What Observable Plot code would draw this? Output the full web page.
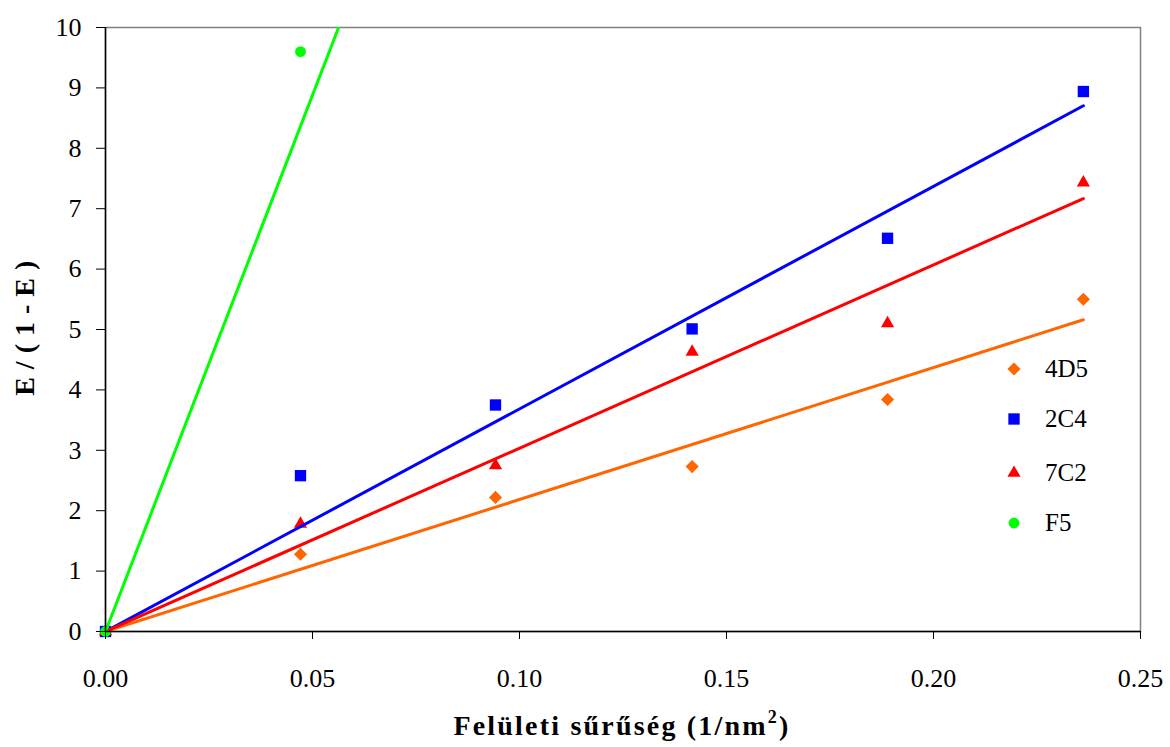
<!DOCTYPE html>
<html><head><meta charset="utf-8">
<script src="https://cdn.jsdelivr.net/npm/d3@7"></script>
<script src="https://cdn.jsdelivr.net/npm/@observablehq/plot@0.6"></script>
<style>
body{margin:0;background:#fff;}
#wrap{position:relative;width:1170px;height:747px;font-family:"Liberation Serif","Times New Roman",serif;color:#000;}
.ytitle{position:absolute;left:25px;top:328px;transform:translate(-50%,-50%) rotate(-90deg);font-weight:bold;font-size:28px;letter-spacing:0.5px;white-space:pre;line-height:1;}
.xtitle{position:absolute;left:622px;top:712px;transform:translateX(-50%);font-weight:bold;font-size:28px;letter-spacing:2.2px;white-space:pre;line-height:1;}
.xtitle sup{font-size:18px;vertical-align:top;position:relative;top:-4px;}
.legend{position:absolute;left:1002px;top:0;}
.lrow{position:absolute;left:0;display:flex;align-items:center;height:30px;font-size:25px;white-space:nowrap;}
.lrow svg{width:24px;height:24px;margin-right:19px;}
</style></head><body><div id="wrap"></div>
<script>
// ---- data ----
const xValues = [0, 0.0471, 0.0942, 0.1417, 0.1889, 0.2362];
const series = ["4D5", "2C4", "7C2", "F5"];
const y4D5 = [0, 1.28, 2.22, 2.73, 3.84, 5.50];
const y2C4 = [0, 2.58, 3.75, 5.01, 6.51, 8.94];
const y7C2 = [0, 1.78, 2.75, 4.63, 5.10, 7.43];
const yF5  = [0, 9.60];
const trendSlopes = [21.85, 36.85, 30.35, 177.6];
const trendEndX = [0.2362, 0.2362, 0.2362, 0.2362];
const xTicks = [0, 0.05, 0.10, 0.15, 0.20, 0.25];
const yTicks = [0, 1, 2, 3, 4, 5, 6, 7, 8, 9, 10];
const colors = ["#FF6600", "#0000FF", "#FF0000", "#00FF00"];
const symbols = ["diamond2", "square", "triangle", "circle"];
const radii = [5.9, 6.4, 4.9, 5.4];

const seriesY = [y4D5, y2C4, y7C2, yF5];
const pts = [];
series.forEach((s, i) => seriesY[i].forEach((v, j) => pts.push({series: s, x: xValues[j], y: v})));
const trend = [];
series.forEach((s, i) => {
  trend.push({series: s, x: 0, y: 0});
  trend.push({series: s, x: trendEndX[i], y: trendSlopes[i] * trendEndX[i]});
});

const dotMarks = series.map((s, i) => Plot.dot(pts.filter(d => d.series === s), {
  x: "x", y: "y", symbol: () => symbols[i], fill: colors[i], stroke: "none", r: radii[i]
}));

const chart = Plot.plot({
  width: 1170, height: 747,
  marginLeft: 105, marginRight: 30, marginTop: 27, marginBottom: 116,
  style: {fontFamily: '"Liberation Serif","Times New Roman",serif', background: "#fff", color: "#000", overflow: "visible"},
  x: {domain: [0, 0.25]},
  y: {domain: [0, 10]},
  symbol: {type: "identity"},
  marks: [
    Plot.frame({stroke: "#808080", strokeWidth: 1.5}),
    ...dotMarks,
    Plot.line(trend, {x: "x", y: "y", z: "series", stroke: d => colors[series.indexOf(d.series)], strokeWidth: 3, clip: true}),
    Plot.ruleX([0], {stroke: "#000", strokeWidth: 1.5}),
    Plot.ruleY([0], {stroke: "#000", strokeWidth: 1.5}),
    Plot.axisX({ticks: xTicks, tickFormat: d3.format(".2f"), tickSize: 8, tickPadding: 29, fontSize: 26, label: null, stroke: "#000"}),
    Plot.axisY({ticks: yTicks, tickFormat: d3.format("d"), tickSize: 9, tickPadding: 15, fontSize: 26, label: null, stroke: "#000"})
  ]
});
const wrap = document.getElementById("wrap");
wrap.appendChild(chart);

const yt = document.createElement("div");
yt.className = "ytitle"; yt.textContent = "E / ( 1 - E )";
wrap.appendChild(yt);
const xt = document.createElement("div");
xt.className = "xtitle"; xt.innerHTML = "Felületi sűrűség (1/nm<sup>2</sup>)";
wrap.appendChild(xt);

const legend = document.createElement("div");
legend.className = "legend";
const rowY = [369, 419, 473, 523];
const symMap = {diamond2: d3.symbolDiamond2, square: d3.symbolSquare, triangle: d3.symbolTriangle, circle: d3.symbolCircle};
series.forEach((s, i) => {
  const row = document.createElement("div");
  row.className = "lrow";
  row.style.top = (rowY[i] - 15) + "px";
  const path = d3.symbol(symMap[symbols[i]], Math.PI * radii[i] * radii[i])();
  row.innerHTML = `<svg viewBox="-12 -12 24 24"><path d="${path}" fill="${colors[i]}"/></svg><span>${s}</span>`;
  legend.appendChild(row);
});
wrap.appendChild(legend);
</script>
</body></html>
